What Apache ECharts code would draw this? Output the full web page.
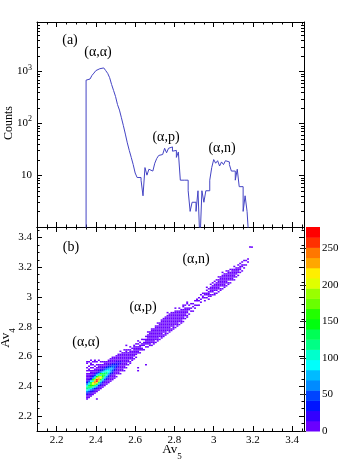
<!DOCTYPE html>
<html><head><meta charset="utf-8">
<script src="https://cdn.jsdelivr.net/npm/echarts@6/dist/echarts.min.js"></script>
<style>html,body{margin:0;padding:0;background:#fff}#c{width:340px;height:461px}</style>
</head><body><div id="c"></div>
<script>
// ---------------- data ----------------
// (a) 1-D histogram of Av5: first bin edge, bin width, counts per bin
const histStart = 2.35;
const histBinWidth = 0.01;
const histCounts = [680,715,760,840,930,1040,1130,1180,1170,1120,1040,920,760,560,430,330,230,180,128,90,
  62,42,30,22,16,11,9,9,8,4,14,10,13,12,13,17,21,24,25,27,33,27,33,35,29,30,22,28,8,8,
  8,8,5,2,3,3,2,5,0,5,3,5,5,8,14,20,17,19,15,18,16,19,18,16,12,12,8,13,6,6,2,4,2];

// (b) 2-D histogram Av4 vs Av5, cell size 0.01.
// Each entry: [x (hundredths), first y (hundredths), counts going up in y]
// '.' = 0, '1'..'9' = counts, letters = larger counts (see cellCodeValues)
const cellSize = 0.01;
const cellCodeValues = {a:20,b:35,c:48,d:62,e:76,f:90,g:104,h:118,i:132,j:146,k:160,l:174,m:188,n:202,o:216,p:230,q:244,r:258,s:272};
const cellColumns = [
  [235,231,"359abdfhhfdba953"],[235,247,"21.1.1..11"],
  [236,232,"369acegiigeca963"],[236,248,"1.21.1..1"],
  [237,233,"47aacfikkifcaa74"],[237,249,"21.1.11.1"],
  [238,234,"49abdgknngkdba94"],[238,250,"1.1.1.1"],
  [239,235,"59abehmppmheba95"],[239,251,"2.1..11"],
  [240,236,"69acfjosrojfca96"],[240,252,"1.1.1"],[240,231,"1"],
  [241,237,"59abehmppmheba95"],[241,253,"11..1"],
  [242,238,"49abdgknngkdba94"],[242,254,"1.1"],
  [243,239,"47aacfikkifcaa74"],[243,255,".1"],
  [244,240,"369acegiigeca963"],[244,256,"1"],
  [245,241,"359abdfhhfdba953"],
  [246,242,"248abceffecba842"],
  [247,243,"2379abdeedba9732"],
  [248,244,"1359abcddcba9531"],
  [249,245,"12479abccba9742."],
  [250,246,"1.359aabbaa9531."],
  [251,247,".12479aaaa97421."],
  [252,248,"1.13589aa98531.1"],
  [253,249,".1123699996321.."],
  [254,250,"1.11346886431.1."],
  [255,251,".1.12357753211..1"],
  [256,254,"1.1234431.1"],
  [257,255,"11.2343221.1"],
  [258,256,".1233432.1"],
  [259,258,"1.12333211"],
  [260,259,"1.223221.1"],
  [261,260,"..12321.1.1"],[261,250,"1.1"],
  [262,262,"1.1221.1"],
  [263,263,".11.21..1"],
  [264,264,"1..121.1"],
  [265,265,".1.1211.1"],[265,254,"1"],
  [266,266,"1.2343321.1"],
  [267,267,"1123454321"],
  [268,267,"1.1245643211"],
  [269,268,"11235654321."],
  [270,269,"1.2346653211"],
  [271,270,"11245764321.1"],
  [272,271,"1.2357764321"],
  [273,272,"1124678653211"],
  [274,273,"11.3578875321"],
  [275,274,"1124689764211"],
  [276,275,"1.23579986431.1"],
  [277,276,"1124689975321"],
  [278,277,"11.3578864211"],
  [279,278,"112467865321"],
  [280,279,"1.1356775321.1"],
  [281,280,"11245664321"],
  [282,281,"1.23455321.1"],
  [283,282,"1123443211"],
  [284,283,"1.1233221.11"],
  [285,285,"1.122211.1"],
  [286,286,"11.1211..11"],
  [287,288,"1..11.1"],
  [288,289,".1.1..1"],
  [289,290,"1..1.1"],
  [290,292,"1.1..1"],
  [291,293,".1..11"],
  [292,294,"1..1.1"],
  [293,296,"1.1..1"],
  [294,297,"..11.1"],
  [295,297,"1.1.11"],
  [296,299,"1.11.1.1"],
  [297,298,"1.1211.1"],
  [298,300,"11.2121.1"],
  [299,301,"1.12321.1"],
  [300,301,"11.23321.1"],
  [301,302,"1.123432.1"],
  [302,303,"1.1234321.1"],
  [303,304,"11.2344321"],
  [304,305,"1.12345321.1"],
  [305,306,"1123443211"],
  [306,307,"1.1234321.1"],
  [307,308,"11.2343211"],
  [308,309,"1.123321.1"],
  [309,310,".11232211"],
  [310,311,"1.122211.1"],
  [311,313,"1.12211"],
  [312,314,"1.1211.1"],
  [313,316,"1.111.1"],
  [314,317,"1..11.1"],
  [315,319,"1.1..1"],
  [316,321,"1..1"],
  [317,322,".1.1"],
  [318,333,"1"],
  [319,333,"1"]
];

// colour scale (z axis)
const zMax = 279;
const paletteColors = ['#6a00ff','#3300ff','#0014ff','#0044ff','#008bff','#00bbff','#00fffc','#00ffcc','#00ff85','#00ff55',
  '#00ff0e','#22ff00','#69ff00','#99ff00','#e0ff00','#ffee00','#ffa700','#ff7700','#ff3000','#ff0000'];

// tick labels
const avTickValues = [2.2,2.4,2.6,2.8,3.0,3.2,3.4];
const avTickTexts = ['2.2','2.4','2.6','2.8','3','3.2','3.4'];
const countTickValues = [10,100,1000];
const countTickTexts = ['10','10{s|2}','10{s|3}'];
const countMinorTicks = [2,3,4,5,6,7,8,9,20,30,40,50,60,70,80,90,200,300,400,500,600,700,800,900,2000,3000,4000,5000,6000,7000,8000,9000];
const zTickValues = [0,50,100,150,200,250];
const zTickTexts = ['0','50','100','150','200','250'];

// ---------------- build ----------------
const FONT = "'Liberation Serif','DejaVu Serif','Times New Roman',serif";
const X_MIN = 2.1, X_MAX = 3.46, Y_MIN = 2.1, Y_MAX = 3.47;
const C_MIN = 1, C_MAX = 9000;
const MINOR = 0.05;
const BLACK = '#000';

const histLine = [[histStart, 0.5]];
histCounts.forEach((v, i) => {
  const x0 = +(histStart + i * histBinWidth).toFixed(4);
  const x1 = +(histStart + (i + 1) * histBinWidth).toFixed(4);
  const y = v > 0 ? v : 0.5;
  histLine.push([x0, y], [x1, y]);
});
histLine.push([+(histStart + histCounts.length * histBinWidth).toFixed(4), 0.5]);

const heatData = [];
cellColumns.forEach(([xc, y0, s]) => {
  for (let j = 0; j < s.length; j++) {
    const ch = s[j];
    let v = 0;
    if (ch >= '1' && ch <= '9') v = +ch;
    else if (cellCodeValues[ch] != null) v = cellCodeValues[ch];
    if (v > 0) heatData.push([xc / 100, (y0 + j) / 100, v]);
  }
});

const nBands = paletteColors.length;
const pieces = paletteColors.map((c, i) => ({gte: i * zMax / nBands, lt: (i + 1) * zMax / nBands + (i === nBands - 1 ? 1 : 0), color: c}));

function lookup(vals, texts, v) {
  const i = vals.findIndex(t => Math.abs(t - v) < 1e-6);
  return i >= 0 ? texts[i] : '';
}

const tickStyle = {color: BLACK, width: 1};
function xAx(grid, pos, major, labels) {
  return {
    gridIndex: grid, type: 'value', min: X_MIN, max: X_MAX, interval: MINOR, position: pos,
    axisLine: {show: !major, onZero: false, lineStyle: {color: BLACK, width: 1}},
    axisTick: major ? {show: true, inside: true, length: 5, lineStyle: tickStyle, customValues: avTickValues}
                    : {show: true, inside: true, length: 2.5, lineStyle: tickStyle},
    axisLabel: labels ? {show: true, customValues: avTickValues, margin: 4, color: BLACK, fontFamily: FONT, fontSize: 11,
                         formatter: v => lookup(avTickValues, avTickTexts, v)} : {show: false},
    splitLine: {show: false}
  };
}
function yAx(grid, pos, major, labels) {
  return {
    gridIndex: grid, type: 'value', min: Y_MIN, max: Y_MAX, interval: MINOR, position: pos,
    axisLine: {show: !major, onZero: false, lineStyle: {color: BLACK, width: 1}},
    axisTick: major ? {show: true, inside: true, length: 5, lineStyle: tickStyle, customValues: avTickValues}
                    : {show: true, inside: true, length: 2.5, lineStyle: tickStyle},
    axisLabel: labels ? {show: true, customValues: avTickValues, margin: 5, color: BLACK, fontFamily: FONT, fontSize: 11,
                         formatter: v => lookup(avTickValues, avTickTexts, v)} : {show: false},
    splitLine: {show: false}
  };
}
function logAx(pos, labels) {
  return {
    gridIndex: 0, type: 'log', logBase: 10, min: C_MIN, max: C_MAX, position: pos,
    axisLine: {show: true, onZero: false, lineStyle: {color: BLACK, width: 1}},
    axisTick: {show: true, inside: true, length: 5, lineStyle: tickStyle},
    axisLabel: labels ? {show: true, margin: 5, color: BLACK, fontFamily: FONT, fontSize: 11,
      formatter: v => { const e = Math.log10(v); if (Math.abs(e - Math.round(e)) > 1e-6) return '';
        return lookup(countTickValues, countTickTexts, Math.pow(10, Math.round(e))); },
      rich: {s: {fontSize: 8, fontFamily: FONT, color: BLACK, verticalAlign: 'top', lineHeight: 16}}} : {show: false},
    splitLine: {show: false}, minorTick: {show: false}
  };
}

const option = {
  animation: false,
  backgroundColor: '#fff',
  grid: [
    {left: 37, top: 22, width: 267, height: 205, outerBoundsMode: 'none', containLabel: false},
    {left: 37, top: 227, width: 267, height: 204, outerBoundsMode: 'none', containLabel: false},
    {left: 306, top: 227, width: 14, height: 204, outerBoundsMode: 'none', containLabel: false}
  ],
  xAxis: [
    xAx(0, 'bottom', false, false), xAx(0, 'bottom', true, false),
    xAx(0, 'top', false, false), xAx(0, 'top', true, false),
    xAx(1, 'bottom', false, false), xAx(1, 'bottom', true, true),
    xAx(1, 'top', false, false), xAx(1, 'top', true, false),
    {gridIndex: 2, type: 'value', min: 0, max: 1, show: false}
  ],
  yAxis: [
    logAx('left', true), logAx('right', false),
    yAx(1, 'left', false, false), yAx(1, 'left', true, true),
    yAx(1, 'right', false, false), yAx(1, 'right', true, false),
    {gridIndex: 2, type: 'value', min: 0, max: zMax, position: 'right',
     axisLine: {show: false},
     axisTick: {show: true, inside: true, length: 6, customValues: zTickValues, lineStyle: {color: '#222', width: 1}},
     axisLabel: {show: true, customValues: zTickValues, margin: 2, color: BLACK, fontFamily: FONT, fontSize: 11,
                 formatter: v => lookup(zTickValues, zTickTexts, v)},
     splitLine: {show: false}}
  ],
  visualMap: {type: 'piecewise', show: false, dimension: 2, seriesIndex: 2, pieces: pieces},
  series: [
    {type: 'line', xAxisIndex: 0, yAxisIndex: 0, data: histLine, showSymbol: false, symbol: 'none', clip: true,
     lineStyle: {color: '#4444c4', width: 1}, silent: true},
    {type: 'custom', xAxisIndex: 0, yAxisIndex: 0, silent: true, clip: false,
     data: countMinorTicks.map(v => [X_MIN, v]),
     renderItem: (p, api) => {
       const v = api.value(1);
       const a = api.coord([X_MIN, v]), b = api.coord([X_MAX, v]);
       const y = Math.round(a[1]) + 0.5;
       return {type: 'group', children: [
         {type: 'line', shape: {x1: a[0], y1: y, x2: a[0] + 3, y2: y}, style: {stroke: BLACK, lineWidth: 1}},
         {type: 'line', shape: {x1: b[0] - 3, y1: y, x2: b[0], y2: y}, style: {stroke: BLACK, lineWidth: 1}}
       ]};
     }},
    {type: 'custom', xAxisIndex: 4, yAxisIndex: 2, silent: true, clip: true,
     dimensions: ['x', 'y', 'v'], encode: {x: 0, y: 1},
     data: heatData,
     renderItem: (p, api) => {
       const x = api.value(0), y = api.value(1);
       const p0 = api.coord([x, y]), p1 = api.coord([x + cellSize, y + cellSize]);
       return {type: 'rect', shape: {x: p0[0], y: p1[1], width: p1[0] - p0[0], height: p0[1] - p1[1]},
               style: {fill: api.visual('color')}};
     }},
    {type: 'custom', xAxisIndex: 8, yAxisIndex: 6, silent: true, clip: false,
     data: paletteColors.map((c, i) => [i]),
     renderItem: (p, api) => {
       const i = api.value(0);
       const p0 = api.coord([0, i * zMax / nBands]), p1 = api.coord([1, (i + 1) * zMax / nBands]);
       return {type: 'rect', shape: {x: p0[0], y: p1[1], width: p1[0] - p0[0], height: p0[1] - p1[1] + 0.5},
               style: {fill: paletteColors[i]}};
     }}
  ],
  graphic: [
    {type: 'text', x: 70, y: 40, style: {text: '(a)', font: '14px ' + FONT, fill: BLACK, align: 'center', verticalAlign: 'middle'}},
    {type: 'text', x: 98, y: 52, style: {text: '(α,α)', font: '14px ' + FONT, fill: BLACK, align: 'center', verticalAlign: 'middle'}},
    {type: 'text', x: 166, y: 137, style: {text: '(α,p)', font: '14px ' + FONT, fill: BLACK, align: 'center', verticalAlign: 'middle'}},
    {type: 'text', x: 222, y: 148, style: {text: '(α,n)', font: '14px ' + FONT, fill: BLACK, align: 'center', verticalAlign: 'middle'}},
    {type: 'text', x: 71, y: 247, style: {text: '(b)', font: '14px ' + FONT, fill: BLACK, align: 'center', verticalAlign: 'middle'}},
    {type: 'text', x: 196, y: 259, style: {text: '(α,n)', font: '14px ' + FONT, fill: BLACK, align: 'center', verticalAlign: 'middle'}},
    {type: 'text', x: 143, y: 307, style: {text: '(α,p)', font: '14px ' + FONT, fill: BLACK, align: 'center', verticalAlign: 'middle'}},
    {type: 'text', x: 86, y: 342, style: {text: '(α,α)', font: '14px ' + FONT, fill: BLACK, align: 'center', verticalAlign: 'middle'}},
    {type: 'text', x: 9, y: 123, rotation: Math.PI / 2,
     style: {text: 'Counts', font: '12px ' + FONT, fill: BLACK, align: 'center', verticalAlign: 'middle'}},
    {type: 'text', x: 8, y: 338, rotation: Math.PI / 2,
     style: {text: '{a|Av}{s|4}', fill: BLACK, align: 'center', verticalAlign: 'middle',
       rich: {a: {fontFamily: FONT, fontSize: 13, lineHeight: 18, verticalAlign: 'top', fill: BLACK},
              s: {fontFamily: FONT, fontSize: 9, lineHeight: 18, verticalAlign: 'bottom', fill: BLACK}}}},
    {type: 'text', x: 172, y: 452,
     style: {text: '{a|Av}{s|5}', fill: BLACK, align: 'center', verticalAlign: 'middle',
       rich: {a: {fontFamily: FONT, fontSize: 13, lineHeight: 18, verticalAlign: 'top', fill: BLACK},
              s: {fontFamily: FONT, fontSize: 9, lineHeight: 18, verticalAlign: 'bottom', fill: BLACK}}}}
  ]
};

const chart = echarts.init(document.getElementById('c'), null, {renderer: 'canvas'});
chart.setOption(option);
</script>
</body></html>
